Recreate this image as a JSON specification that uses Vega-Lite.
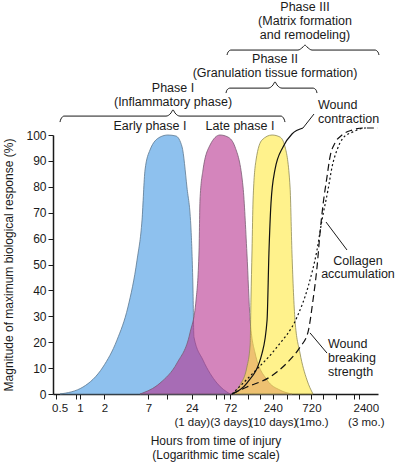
{
  "$schema": "https://vega.github.io/schema/vega-lite/v6.json",
  "width": 325,
  "height": 259,
  "autosize": {"type": "none"},
  "padding": {"left": 53, "top": 135, "right": 19, "bottom": 71},
  "background": "white",
  "config": {
    "view": {"stroke": null},
    "font": "Liberation Sans",
    "axis": {"grid": false, "labelFont": "Liberation Sans", "titleFont": "Liberation Sans", "labelFontSize": 12, "titleFontSize": 12, "titleFontWeight": "normal", "labelColor": "#1a1a1a", "titleColor": "#1a1a1a", "domainColor": "#1a1a1a", "tickColor": "#1a1a1a", "domainWidth": 1.5, "tickWidth": 1}
  },
  "datasets": {
    "phases": [
      {"series": "early", "hours": 0.567, "value": 0}, {"series": "early", "hours": 1.09, "value": 2.7}, {"series": "early", "hours": 1.92, "value": 10.4}, {"series": "early", "hours": 2.86, "value": 20.8}, {"series": "early", "hours": 3.91, "value": 33.6}, {"series": "early", "hours": 5.06, "value": 51.7}, {"series": "early", "hours": 5.83, "value": 67.2}, {"series": "early", "hours": 6.35, "value": 86.5}, {"series": "early", "hours": 7.31, "value": 94.2}, {"series": "early", "hours": 9.72, "value": 99.2}, {"series": "early", "hours": 12.2, "value": 100}, {"series": "early", "hours": 15.3, "value": 99.6}, {"series": "early", "hours": 18.2, "value": 95.4}, {"series": "early", "hours": 20.9, "value": 79.9}, {"series": "early", "hours": 23.5, "value": 63.3}, {"series": "early", "hours": 24.8, "value": 41.3}, {"series": "early", "hours": 25.5, "value": 22.0}, {"series": "early", "hours": 33.0, "value": 13.1}, {"series": "early", "hours": 49.1, "value": 4.2}, {"series": "early", "hours": 71.1, "value": 0},
      {"series": "late", "hours": 5.5, "value": 0}, {"series": "late", "hours": 9.72, "value": 4.2}, {"series": "late", "hours": 15.8, "value": 12.0}, {"series": "late", "hours": 22.8, "value": 23.6}, {"series": "late", "hours": 27.1, "value": 36.3}, {"series": "late", "hours": 29.5, "value": 55.6}, {"series": "late", "hours": 30.3, "value": 74.9}, {"series": "late", "hours": 33.0, "value": 86.5}, {"series": "late", "hours": 40.3, "value": 96.1}, {"series": "late", "hours": 53.5, "value": 100}, {"series": "late", "hours": 67.1, "value": 99.2}, {"series": "late", "hours": 82.0, "value": 95.4}, {"series": "late", "hours": 103, "value": 79.9}, {"series": "late", "hours": 115, "value": 54.4}, {"series": "late", "hours": 126, "value": 28.6}, {"series": "late", "hours": 145, "value": 15.8}, {"series": "late", "hours": 204, "value": 5.4}, {"series": "late", "hours": 295, "value": 1.5}, {"series": "late", "hours": 414, "value": 0},
      {"series": "remodel", "hours": 75.3, "value": 0}, {"series": "remodel", "hours": 94.5, "value": 3.5}, {"series": "remodel", "hours": 115, "value": 10.4}, {"series": "remodel", "hours": 126, "value": 18.9}, {"series": "remodel", "hours": 129, "value": 36.3}, {"series": "remodel", "hours": 133, "value": 55.6}, {"series": "remodel", "hours": 137, "value": 74.9}, {"series": "remodel", "hours": 149, "value": 90.3}, {"series": "remodel", "hours": 177, "value": 98.1}, {"series": "remodel", "hours": 235, "value": 100}, {"series": "remodel", "hours": 295, "value": 99.2}, {"series": "remodel", "hours": 340, "value": 95.4}, {"series": "remodel", "hours": 392, "value": 79.9}, {"series": "remodel", "hours": 414, "value": 54.4}, {"series": "remodel", "hours": 451, "value": 28.6}, {"series": "remodel", "hours": 520, "value": 15.8}, {"series": "remodel", "hours": 634, "value": 5.4}, {"series": "remodel", "hours": 753, "value": 0}
    ],
    "healing": [
      {"series": "contraction", "hours": 75.3, "value": 0}, {"series": "contraction", "hours": 115, "value": 4.2}, {"series": "contraction", "hours": 177, "value": 15.8}, {"series": "contraction", "hours": 204, "value": 28.6}, {"series": "contraction", "hours": 215, "value": 54.4}, {"series": "contraction", "hours": 228, "value": 73.7}, {"series": "contraction", "hours": 255, "value": 86.5}, {"series": "contraction", "hours": 321, "value": 95.4}, {"series": "contraction", "hours": 414, "value": 100.4}, {"series": "contraction", "hours": 566, "value": 102.7},
      {"series": "collagen", "hours": 75.3, "value": 0}, {"series": "collagen", "hours": 137, "value": 8.1}, {"series": "collagen", "hours": 270, "value": 18.1}, {"series": "collagen", "hours": 478, "value": 29.7}, {"series": "collagen", "hours": 653, "value": 41.3}, {"series": "collagen", "hours": 843, "value": 55.6}, {"series": "collagen", "hours": 972, "value": 67.2}, {"series": "collagen", "hours": 1153, "value": 78.8}, {"series": "collagen", "hours": 1292, "value": 87.6}, {"series": "collagen", "hours": 1489, "value": 94.2}, {"series": "collagen", "hours": 1766, "value": 98.8}, {"series": "collagen", "hours": 2345, "value": 101.2}, {"series": "collagen", "hours": 3302, "value": 102.7}, {"series": "collagen", "hours": 3600, "value": 102.7},
      {"series": "strength", "hours": 75.3, "value": 0}, {"series": "strength", "hours": 115, "value": 2.7}, {"series": "strength", "hours": 222, "value": 6.6}, {"series": "strength", "hours": 359, "value": 12.0}, {"series": "strength", "hours": 520, "value": 18.1}, {"series": "strength", "hours": 653, "value": 23.9}, {"series": "strength", "hours": 753, "value": 36.3}, {"series": "strength", "hours": 844, "value": 49.0}, {"series": "strength", "hours": 919, "value": 62.2}, {"series": "strength", "hours": 1000, "value": 73.0}, {"series": "strength", "hours": 1120, "value": 83.8}, {"series": "strength", "hours": 1219, "value": 91.5}, {"series": "strength", "hours": 1406, "value": 96.9}, {"series": "strength", "hours": 1717, "value": 100}, {"series": "strength", "hours": 2281, "value": 101.9}, {"series": "strength", "hours": 3119, "value": 102.7}, {"series": "strength", "hours": 4775, "value": 102.7}
    ],
    "brackets": [
      {"id": "b1", "hours": 0.566, "value": 105.0}, {"id": "b1", "hours": 0.582, "value": 106.2}, {"id": "b1", "hours": 0.635, "value": 107.3}, {"id": "b1", "hours": 11.53, "value": 107.3}, {"id": "b1", "hours": 13.29, "value": 108.5}, {"id": "b1", "hours": 14.07, "value": 109.7}, {"id": "b1", "hours": 14.89, "value": 108.5}, {"id": "b1", "hours": 17.16, "value": 107.3}, {"id": "b1", "hours": 303.0, "value": 107.3}, {"id": "b1", "hours": 330.0, "value": 106.2}, {"id": "b1", "hours": 339.6, "value": 105.0},
      {"id": "b2", "hours": 63.45, "value": 116.2}, {"id": "b2", "hours": 65.3, "value": 117.4}, {"id": "b2", "hours": 71.1, "value": 118.1}, {"id": "b2", "hours": 209.4, "value": 118.1}, {"id": "b2", "hours": 241.3, "value": 119.3}, {"id": "b2", "hours": 255.5, "value": 120.5}, {"id": "b2", "hours": 270.5, "value": 119.3}, {"id": "b2", "hours": 311.7, "value": 118.1}, {"id": "b2", "hours": 752.4, "value": 118.1}, {"id": "b2", "hours": 819.6, "value": 117.4}, {"id": "b2", "hours": 843.2, "value": 116.2},
      {"id": "b3", "hours": 65.3, "value": 130.9}, {"id": "b3", "hours": 67.2, "value": 132.0}, {"id": "b3", "hours": 73.1, "value": 132.8}, {"id": "b3", "hours": 491.3, "value": 132.8}, {"id": "b3", "hours": 566.4, "value": 134.0}, {"id": "b3", "hours": 599.5, "value": 134.7}, {"id": "b3", "hours": 634.6, "value": 134.0}, {"id": "b3", "hours": 731.4, "value": 132.8}, {"id": "b3", "hours": 4385, "value": 132.8}, {"id": "b3", "hours": 4775, "value": 132.0}, {"id": "b3", "hours": 4914, "value": 130.9},
      {"id": "l1", "hours": 566, "value": 102.7}, {"id": "l1", "hours": 774, "value": 108.1},
      {"id": "l2", "hours": 1089, "value": 66.4}, {"id": "l2", "hours": 1978, "value": 55.6},
      {"id": "l3", "hours": 691, "value": 23.6}, {"id": "l3", "hours": 1120, "value": 15.8}
    ],
    "textCenter": [
      {"text": "Phase III", "hours": 599.5, "value": 149.4}, {"text": "(Matrix formation", "hours": 599.5, "value": 144.0}, {"text": "and remodeling)", "hours": 599.5, "value": 138.6},
      {"text": "Phase II", "hours": 255.5, "value": 129.3}, {"text": "(Granulation tissue formation)", "hours": 255.5, "value": 123.9},
      {"text": "Phase I", "hours": 14.07, "value": 118.1}, {"text": "(Inflammatory phase)", "hours": 14.07, "value": 112.7},
      {"text": "Early phase I", "hours": 7.31, "value": 103.5}, {"text": "Late phase I", "hours": 94.5, "value": 103.5},
      {"text": "Collagen", "hours": 2704, "value": 51.4}, {"text": "accumulation", "hours": 2704, "value": 46.3}
    ],
    "textLeft": [
      {"text": "Wound", "hours": 867, "value": 111.6}, {"text": "contraction", "hours": 867, "value": 106.2},
      {"text": "Wound", "hours": 1152, "value": 19.3}, {"text": "breaking", "hours": 1152, "value": 13.9}, {"text": "strength", "hours": 1152, "value": 8.5}
    ]
  },
  "encoding": {
    "x": {"field": "hours", "type": "quantitative", "scale": {"type": "log", "domain": [0.4642, 4775], "nice": false},
      "axis": {"values": [0.5, 0.9, 1, 2, 7, 12, 24, 48, 60, 72, 120, 168, 240, 360, 500, 720, 1000, 1440, 2400, 2800],
        "labelExpr": "datum.value == 0.5 ? '0.5' : datum.value == 1 ? '1' : datum.value == 2 ? '2' : datum.value == 7 ? '7' : datum.value == 24 ? ['24', '(1 day)'] : datum.value == 72 ? ['72', '(3 days)'] : datum.value == 240 ? ['240', '(10 days)'] : datum.value == 720 ? ['720', '(1mo.)'] : datum.value == 2400 ? ['2400', '(3 mo.)'] : ''",
        "labelOffset": {"condition": [{"test": "datum.value == 0.5", "value": 4}, {"test": "datum.value == 2400", "value": 12}], "value": 0},
        "labelFontSize": 11.5, "tickSize": 5, "labelPadding": 3, "labelLineHeight": 14, "labelFlush": false, "labelOverlap": false,
        "title": ["Hours from time of injury", "(Logarithmic time scale)"], "titleLineHeight": 14, "titlePadding": 8}},
    "y": {"field": "value", "type": "quantitative", "scale": {"domain": [0, 100], "nice": false},
      "axis": {"values": [0, 10, 20, 30, 40, 50, 60, 70, 80, 90, 100], "tickCount": 11, "labelOverlap": false, "tickSize": 5, "labelPadding": 2, "title": "Magnitude of maximum biological response (%)", "titlePadding": 10}}
  },
  "layer": [
    {
      "data": {"name": "phases"},
      "transform": [{"filter": "datum.series == 'early'"}],
      "mark": {"type": "area", "interpolate": "monotone", "fill": "#8EC1EE", "stroke": "#5d7890", "strokeWidth": 0.8}
    },
    {
      "data": {"name": "phases"},
      "transform": [{"filter": "datum.series == 'late'"}],
      "mark": {"type": "area", "interpolate": "monotone", "fill": "#B7348F", "fillOpacity": 0.6, "stroke": "#7a5a72", "strokeWidth": 0.8}
    },
    {
      "data": {"name": "phases"},
      "transform": [{"filter": "datum.series == 'remodel'"}],
      "mark": {"type": "area", "interpolate": "monotone", "fill": "#FFE93F", "fillOpacity": 0.6, "stroke": "#8f8a55", "strokeWidth": 0.8}
    },
    {
      "data": {"name": "healing"},
      "transform": [{"filter": "datum.series == 'contraction'"}],
      "mark": {"type": "line", "interpolate": "monotone", "color": "#111", "strokeWidth": 1.2}
    },
    {
      "data": {"name": "healing"},
      "transform": [{"filter": "datum.series == 'collagen'"}],
      "mark": {"type": "line", "interpolate": "monotone", "color": "#111", "strokeWidth": 1.2, "strokeDash": [2, 2.5]}
    },
    {
      "data": {"name": "healing"},
      "transform": [{"filter": "datum.series == 'strength'"}],
      "mark": {"type": "line", "interpolate": "monotone", "color": "#111", "strokeWidth": 1.2, "strokeDash": [7, 4]}
    },
    {
      "data": {"name": "brackets"},
      "mark": {"type": "line", "interpolate": "monotone", "color": "#1a1a1a", "strokeWidth": 1},
      "encoding": {"detail": {"field": "id"}}
    },
    {
      "data": {"name": "textCenter"},
      "mark": {"type": "text", "align": "center", "baseline": "middle", "fontSize": 12.5, "font": "Liberation Sans", "color": "#1a1a1a"},
      "encoding": {"text": {"field": "text"}}
    },
    {
      "data": {"name": "textLeft"},
      "mark": {"type": "text", "align": "left", "baseline": "middle", "fontSize": 12.5, "font": "Liberation Sans", "color": "#1a1a1a"},
      "encoding": {"text": {"field": "text"}}
    }
  ]
}
